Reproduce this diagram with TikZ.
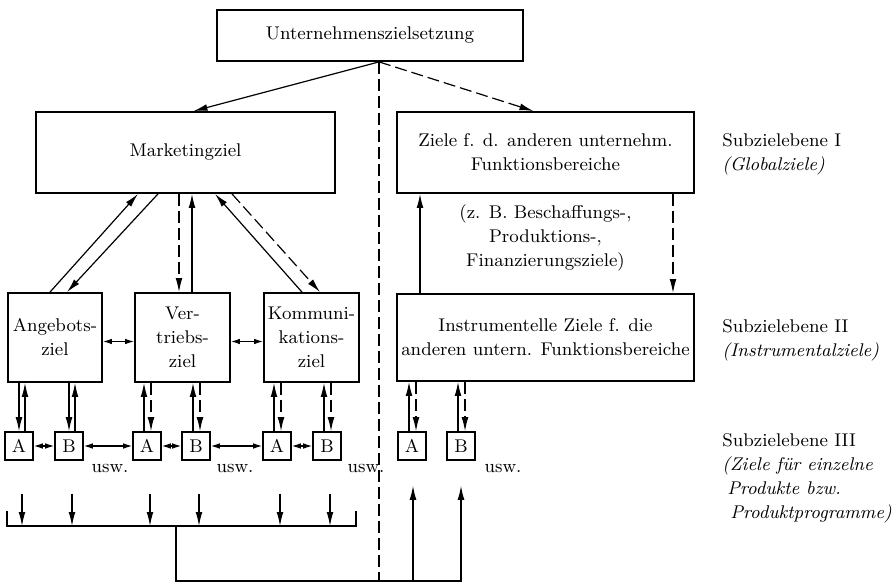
\documentclass[tikz,border=0pt]{standalone}
\usetikzlibrary{arrows.meta,calc,positioning}
\begin{document}
\begin{tikzpicture}[x=0.5pt,y=-0.5pt,
  box/.style={draw,line width=0.9pt,inner sep=0pt,align=center,font=\myfontbox},
  abbox/.style={draw,line width=0.8pt,inner sep=0pt,minimum size=14pt,font=\myfontbox},
  arr/.style={line width=0.6pt,-{Latex[length=7pt,width=3.4pt]}},
  darr/.style={line width=0.6pt,{Latex[length=4.5pt,width=2.8pt]}-{Latex[length=4.5pt,width=2.8pt]}},
  dashline/.style={dash pattern=on 6pt off 2.5pt},
  lbl/.style={anchor=west,align=left,inner sep=0pt,font=\myfontbox}]
\newcommand{\myfontbox}{\fontsize{9.2}{12}\selectfont}
\useasboundingbox (0,0) rectangle (895,583);
%Top goal
\node[box,minimum width=153pt,minimum height=25.5pt] (top) at (370,35.5) {Unternehmenszielsetzung};
%Subzielebene I
\node[box,minimum width=149.5pt,minimum height=40.5pt] (mark) at (185.5,152.5) {Marketingziel};
\node[box,minimum width=148.5pt,minimum height=40.5pt] (other) at (545.5,152.5) {Ziele f. d. anderen unternehm.\\Funktionsbereiche};
%Subzielebene II
\node[box,minimum width=47pt,minimum height=44.5pt] (ang) at (55,337.5) {Angebots-\\ziel};
\node[box,minimum width=47.5pt,minimum height=44.5pt] (vert) at (182.5,337.5) {Ver-\\triebs-\\ziel};
\node[box,minimum width=47.5pt,minimum height=44.5pt] (komm) at (311.5,337.5) {Kommuni-\\kations-\\ziel};
\node[box,minimum width=148.5pt,minimum height=43.5pt] (instr) at (545.5,337.5) {Instrumentelle Ziele f. die\\anderen untern. Funktionsbereiche};
\node[font=\myfontbox,align=center,inner sep=0pt] (zb) at ($(other.south)!0.5!(instr.north)+(0,-6)$) {(z. B. Beschaffungs-,\\Produktions-,\\Finanzierungsziele)};
%Subzielebene III
\node[abbox] (a1) at (19,446) {A};
\node[abbox] (b1) at (69,446) {B};
\node[abbox] (a2) at (147,446) {A};
\node[abbox] (b2) at (196,446) {B};
\node[abbox] (a3) at (277,446) {A};
\node[abbox] (b3) at (327,446) {B};
\node[abbox] (a4) at (412,446) {A};
\node[abbox] (b4) at (461,446) {B};
\node[font=\myfontbox] (usw1) at (110,468) {usw.};
\node[font=\myfontbox] (usw2) at (235,468) {usw.};
\node[font=\myfontbox] (usw3) at (366,468) {usw.};
\node[font=\myfontbox] (usw4) at (503,468) {usw.};
%Level labels on the right
\node[lbl] (lvl1) at (722,154.5) {Subzielebene I\\\textit{(Globalziele)}};
\node[lbl] (lvl2) at (722,340.5) {Subzielebene II\\\textit{(Instrumentalziele)}};
\node[lbl] (lvl3) at (722,478.5) {Subzielebene III\\\textit{(Ziele für einzelne}\\\hspace*{2.5pt}\textit{Produkte bzw.}\\\hspace*{4pt}\textit{Produktprogramme)}};
%Dividing line and arrows from the top
\coordinate (src) at ($(top.south)+(9,0)$);
\coordinate (botL) at (176,581);
\draw[dashline,line width=0.6pt] (src) -- (src |- botL);
\draw[arr] (src) -- ($(mark.north)+(8,0)$);
\draw[arr,dashline] (src) -- ($(other.north)+(-12,0)$);
%Marketingziel and its subgoals
\draw[arr] ($(ang.north)+(-5,0)$) -- ($(mark.south)+(-47.5,0)$);
\draw[arr] ($(mark.south)+(-27.5,0)$) -- ($(ang.north)+(12,0)$);
\draw[arr,dashline] ($(mark.south)+(-6.5,0)$) -- ($(vert.north)+(-3.5,0)$);
\draw[arr] ($(vert.north)+(9.5,0)$) -- ($(mark.south)+(6.5,0)$);
\draw[arr] ($(komm.north)+(-9.5,0)$) -- ($(mark.south)+(29.5,0)$);
\draw[arr,dashline] ($(mark.south)+(46.5,0)$) -- ($(komm.north)+(8.5,0)$);
\draw[darr] ($(ang.east)+(0,4)$) -- ($(vert.west)+(0,4)$);
\draw[darr] ($(vert.east)+(0,4)$) -- ($(komm.west)+(0,4)$);
%Other functions
\draw[arr] ($(instr.north)+(-125.5,0)$) -- ($(other.south)+(-125.5,0)$);
\draw[arr,dashline] ($(other.south)+(127.5,0)$) -- ($(instr.north)+(127.5,0)$);
%Subgoals to products
\foreach \n/\p in {a1/ang,b1/ang} {
  \draw[arr] ($(\n.north|-\p.south)+(0,0)$) -- ($(\n.north)+(0,0)$);
  \draw[arr] ($(\n.north)+(6,0)$) -- ($(\n.north|-\p.south)+(6,0)$);
}
\foreach \n/\p in {a2/vert,b2/vert,a3/komm,b3/komm,a4/instr,b4/instr} {
  \draw[arr] ($(\n.north)+(-3,0)$) -- ($(\n.north|-\p.south)+(-3,0)$);
  \draw[arr,dashline] ($(\n.north|-\p.south)+(4,0)$) -- ($(\n.north)+(4,0)$);
}
\draw[darr] (a1) -- (b1);
\draw[darr] (b1) -- (a2);
\draw[darr] (a2) -- (b2);
\draw[darr] (b2) -- (a3);
\draw[darr] (a3) -- (b3);
%Collecting bar at the bottom
\coordinate (barL) at (7,526);
\coordinate (barR) at (356,526);
\coordinate (barM) at (176,526);
\draw[line width=0.6pt] ($(barL)+(0,-15)$) -- (barL) -- (barR) -- ($(barR)+(0,-15)$);
\foreach \n in {a1,b1,a2,b2,a3,b3} {
  \draw[arr] ($(\n.south)+(3,33)$) -- ($(\n.south|-barL)+(3,0)$);
}
\draw[arr] (barM) -- (botL) -- (botL -| b4.south) -- ($(b4.south)+(0,25)$);
\draw[arr] ($(botL -| a4.south)+(1,0)$) -- ($(a4.south)+(1,25)$);
\end{tikzpicture}
\end{document}
